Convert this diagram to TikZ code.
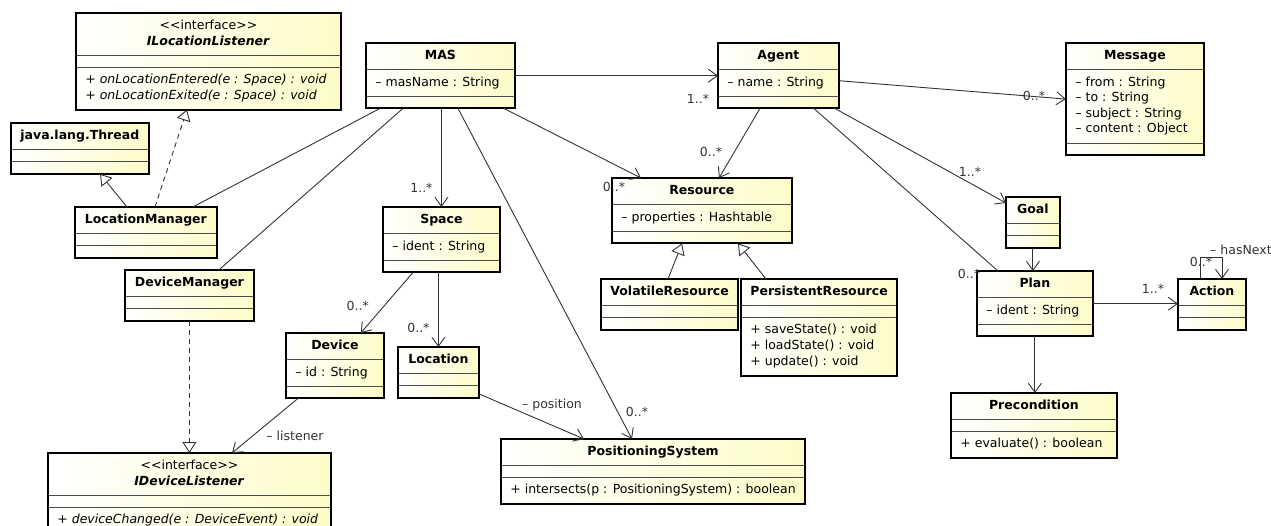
\documentclass[tikz,border=0pt]{standalone}
\usepackage{fontspec}
\setmainfont{DejaVu Sans}
\usetikzlibrary{shapes.multipart,arrows.meta}

% an empty compartment of a class box
\newcommand{\nopart}{\kern0.1pt\vrule width0pt height1pt depth0pt}

\begin{document}
\begin{tikzpicture}[x=1pt,y=-1pt,
		umlclass/.style={rectangle split,rectangle split parts=3,anchor=north west,
			draw=black!70,line width=0.8pt,left color=white,right color=umlYellow,
			rectangle split part align={center,left,left},
			inner xsep=9pt,inner ysep=5pt,font=\fontsize{12.5}{15.6}\selectfont},
		classborder/.style={line width=2pt},
		link/.style={black!80,line width=0.9pt},
		assoc/.style={link,-{Straight Barb[length=9pt,width=13pt]}},
		inherit/.style={link,-{Triangle[open,length=11pt,width=14pt]}},
		realize/.style={inherit,dash pattern=on 5pt off 4pt},
		mult/.style={text=black!80,inner sep=0pt,font=\fontsize{12.5}{15.6}\selectfont}]

		\definecolor{umlYellow}{RGB}{253,252,200}

		\useasboundingbox (0,0) rectangle (1271,526);

		% classes, left side
		\node[umlclass,minimum width=264pt] (locListener) at (76,13)
			{\begin{tabular}{@{}c@{}}<{}<interface>{}>\\\textbf{\textit{ILocationListener}}\end{tabular}\nodepart{second}\nopart\nodepart{third}\begin{tabular}{@{}l@{}}\textit{+ onLocationEntered(e : Space) : void}\\\textit{+ onLocationExited(e : Space) : void}\end{tabular}};
		\node[umlclass,minimum width=134pt] (thread) at (11,123)
			{\strut\textbf{java.lang.Thread}\nodepart{second}\nopart\nodepart{third}\nopart};
		\node[umlclass,minimum width=141pt] (locManager) at (75,207)
			{\strut\textbf{LocationManager}\nodepart{second}\nopart\nodepart{third}\nopart};
		\node[umlclass,minimum width=128pt] (devManager) at (125,270)
			{\strut\textbf{DeviceManager}\nodepart{second}\nopart\nodepart{third}\nopart};
		\node[umlclass,minimum width=282pt] (devListener) at (48,453)
			{\begin{tabular}{@{}c@{}}<{}<interface>{}>\\\textbf{\textit{IDeviceListener}}\end{tabular}\nodepart{second}\nopart\nodepart{third}\strut\textit{+ deviceChanged(e : DeviceEvent) : void}};

		% classes, middle
		\node[umlclass,minimum width=148pt] (mas) at (366,43)
			{\strut\textbf{MAS}\nodepart{second}\strut– masName : String\nodepart{third}\nopart};
		\node[umlclass,minimum width=116pt] (space) at (383,207)
			{\strut\textbf{Space}\nodepart{second}\strut– ident : String\nodepart{third}\nopart};
		\node[umlclass,minimum width=97pt] (device) at (286,333)
			{\strut\textbf{Device}\nodepart{second}\strut– id : String\nodepart{third}\nopart};
		\node[umlclass,minimum width=80pt] (location) at (398,347)
			{\strut\textbf{Location}\nodepart{second}\nopart\nodepart{third}\nopart};
		\node[umlclass,minimum width=298pt] (posSystem) at (501,439)
			{\strut\textbf{PositioningSystem}\nodepart{second}\nopart\nodepart{third}\strut+ intersects(p : PositioningSystem) : boolean};
		\node[umlclass,minimum width=179pt] (resource) at (612,178)
			{\strut\textbf{Resource}\nodepart{second}\strut– properties : Hashtable\nodepart{third}\nopart};
		\node[umlclass,minimum width=127pt] (volatileRes) at (601,279)
			{\strut\textbf{VolatileResource}\nodepart{second}\nopart\nodepart{third}\nopart};
		\node[umlclass,minimum width=149pt] (persistentRes) at (741,279)
			{\strut\textbf{PersistentResource}\nodepart{second}\nopart\nodepart{third}\begin{tabular}{@{}l@{}}+ saveState() : void\\+ loadState() : void\\+ update() : void\end{tabular}};

		% classes, right side
		\node[umlclass,minimum width=120pt] (agent) at (718,43)
			{\strut\textbf{Agent}\nodepart{second}\strut– name : String\nodepart{third}\nopart};
		\node[umlclass,minimum width=137pt] (message) at (1066,43)
			{\strut\textbf{Message}\nodepart{second}\begin{tabular}{@{}l@{}}– from : String\\– to : String\\– subject : String\\– content : Object\end{tabular}\nodepart{third}\nopart};
		\node[umlclass,minimum width=53pt] (goal) at (1006,197)
			{\strut\textbf{Goal}\nodepart{second}\nopart\nodepart{third}\nopart};
		\node[umlclass,minimum width=115pt] (plan) at (977,271)
			{\strut\textbf{Plan}\nodepart{second}\strut– ident : String\nodepart{third}\nopart};
		\node[umlclass,minimum width=67pt] (action) at (1178,279)
			{\strut\textbf{Action}\nodepart{second}\nopart\nodepart{third}\nopart};
		\node[umlclass,minimum width=165pt] (precondition) at (951,393)
			{\strut\textbf{Precondition}\nodepart{second}\nopart\nodepart{third}\strut+ evaluate() : boolean};

		\foreach \c in {locListener,thread,locManager,devManager,devListener,mas,space,device,location,posSystem,resource,volatileRes,persistentRes,agent,message,goal,plan,action,precondition}
			\draw[classborder] (\c.north west) rectangle (\c.south east);

		% generalization and realization
		\draw[realize] ([xshift=80pt]locManager.north west) -- ([xshift=111pt]locListener.south west);
		\draw[inherit] ([xshift=52pt]locManager.north west) -- ([xshift=89pt]thread.south west);
		\draw[realize] (devManager.south) -- (devManager.south |- devListener.north);
		\draw[inherit] ([xshift=67pt]volatileRes.north west) -- ([xshift=70pt]resource.south west);
		\draw[inherit] ([xshift=25pt]persistentRes.north west) -- ([xshift=126pt]resource.south west);

		% associations of MAS
		\draw[link] ([xshift=14pt]mas.south west) -- ([xshift=-24pt]locManager.north east);
		\draw[link] ([xshift=37pt]mas.south west) -- ([xshift=-35pt]devManager.north east);
		\draw[assoc] (space.north |- mas.south) -- (space.north)
			node[mult,pos=1,xshift=-20pt,yshift=19pt] (mSpace) {1..*};
		\draw[assoc] ([xshift=92pt]mas.south west) -- ([xshift=131pt]posSystem.north west)
			node[mult,pos=1,xshift=5pt,yshift=27pt] (mPosSystem) {0..*};
		\draw[assoc] ([xshift=-11pt]mas.south east) -- ([xshift=29pt]resource.north west)
			node[mult,pos=1,xshift=-27pt,yshift=-9pt] (mResMas) {0..*};
		\draw[assoc] (mas.east) -- (agent.west)
			node[mult,pos=1,xshift=-20pt,yshift=-23pt] (mAgent) {1..*};

		% associations of Agent
		\draw[assoc] ([xshift=42pt]agent.south west) -- ([xshift=107pt]resource.north west)
			node[mult,pos=1,xshift=-8pt,yshift=26pt] (mResAgent) {0..*};
		\draw[assoc] ([yshift=-5pt]agent.east) -- (message.west)
			node[mult,pos=1,xshift=-32pt,yshift=3pt] (mMessage) {0..*};
		\draw[assoc] ([xshift=-4pt]agent.south east) -- ([yshift=-6pt]goal.north west)
			node[mult,pos=1,xshift=-36pt,yshift=31pt] (mGoal) {1..*};
		\draw[link] ([xshift=-25pt]agent.south east) -- ([xshift=21pt]plan.north west)
			node[mult,pos=1,xshift=-29pt,yshift=-3pt] (mPlan) {0..*};

		% plans and actions
		\draw[assoc] (goal.south) -- (goal.south |- plan.north);
		\draw[assoc] (plan.east) -- (plan.east -| action.west)
			node[mult,pos=1,xshift=-25pt,yshift=15pt] (mAction) {1..*};
		\draw[assoc] ([xshift=22pt]action.north west) -- ++(0,-22) -| ([xshift=44pt]action.north west);
		\node[mult] (mNext) at ([xshift=23pt,yshift=17pt]action.north west) {0..*};
		\node[mult,anchor=west] (lNext) at ([xshift=32pt,yshift=29pt]action.north west) {– hasNext};
		\draw[assoc] (plan.south) -- (plan.south |- precondition.north);

		% spaces, devices, locations
		\draw[assoc] ([xshift=30pt]space.south west) -- ([xshift=-23pt]device.north east)
			node[mult,pos=1,xshift=-3pt,yshift=27pt] (mDevice) {0..*};
		\draw[assoc] (location.north |- space.south) -- (location.north)
			node[mult,pos=1,xshift=-20pt,yshift=19pt] (mLocation) {0..*};
		\draw[assoc] ([yshift=4pt]location.south east) -- ([xshift=83pt]posSystem.north west)
			node[mult,pos=1,xshift=-32pt,yshift=34pt] (lPosition) {– position};
		\draw[assoc] ([xshift=12pt]device.south west) -- ([xshift=184pt]devListener.north west)
			node[mult,pos=1,xshift=63pt,yshift=17pt] (lListener) {– listener};

	\end{tikzpicture}
\end{document}
